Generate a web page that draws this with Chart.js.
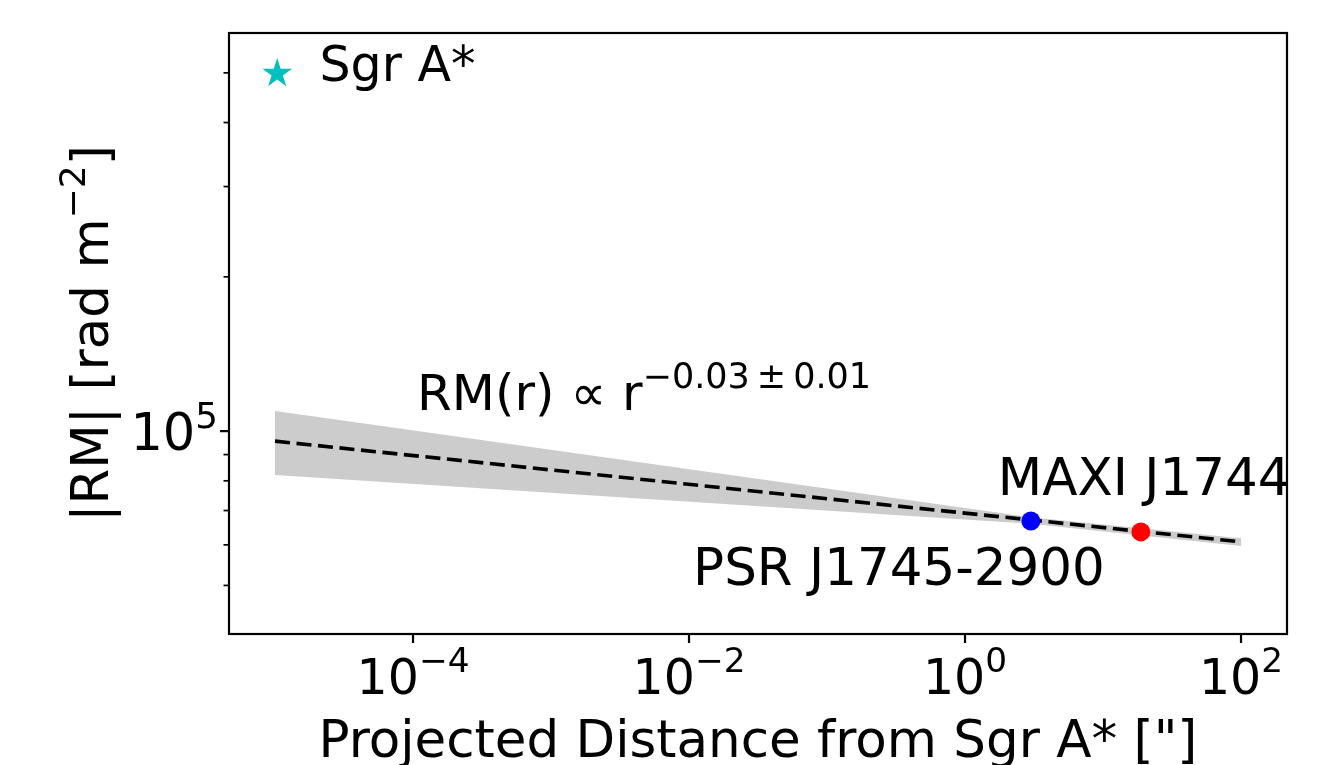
<!DOCTYPE html>
<html>
<head>
<meta charset="utf-8">
<script src="https://cdn.jsdelivr.net/npm/chart.js@4.4.0/dist/chart.umd.min.js"></script>
<style>
html, body { margin: 0; padding: 0; background: #fff; }
canvas { display: block; }
</style>
</head>
<body>
<canvas id="rmChart" width="1336" height="765"></canvas>
<script>
// valores (|RM| em rad m^-2, distância em arcsec)
const fitX = [1e-5, 100];
const fitY = [9.56e4, 6.08e4];
const bandX = [1e-5, 3, 100];
const bandUpper = [1.095e5, 6.79e4, 6.18e4];
const bandLower = [8.21e4, 6.60e4, 5.97e4];
const psrX = [3.0];
const psrY = [6.68e4];
const maxiX = [18.8];
const maxiY = [6.36e4];

// eixos
const xRange = [4.64e-6, 215.4];
const yRange = [4.02e4, 5.98e5];
const xMajorTicks = [1e-4, 1e-2, 1, 100];
const xTickExps = ['\u22124', '\u22122', '0', '2'];
const yMajorTicks = [1e5];
const yTickExps = ['5'];
const yMinorTicks = [5e4, 6e4, 7e4, 8e4, 9e4, 2e5, 3e5, 4e5, 5e5];

const FAMILY = '"DejaVu Sans", sans-serif';
const font = px => px + 'px ' + FAMILY;

const toPoints = (xs, ys) => xs.map((v, i) => ({ x: v, y: ys[i] }));

// estrela preenchida tipo marcador '*' do matplotlib (usada na legenda)
const starImg = document.createElement('canvas');
starImg.width = 64;
starImg.height = 54;
(function () {
    const c = starImg.getContext('2d');
    const cx = 42.2, cy = 32.6, R = 15.5, r = R * 0.382;
    c.beginPath();
    for (let i = 0; i < 10; i++) {
        const rad = i % 2 ? r : R;
        const ang = -Math.PI / 2 + i * Math.PI / 5;
        c.lineTo(cx + rad * Math.cos(ang), cy + rad * Math.sin(ang));
    }
    c.closePath();
    c.fillStyle = '#00bfbf';
    c.fill();
})();

// escreve "base" com expoente elevado
function drawPow(ctx, base, exp, x, y, size, align) {
    ctx.font = font(size);
    const wb = ctx.measureText(base).width;
    ctx.font = font(size * 0.7);
    const we = ctx.measureText(exp).width;
    let x0 = x;
    if (align === 'center') x0 = x - (wb + we) / 2;
    else if (align === 'right') x0 = x - (wb + we);
    ctx.textAlign = 'left';
    ctx.textBaseline = 'alphabetic';
    ctx.font = font(size);
    ctx.fillText(base, x0, y);
    ctx.font = font(size * 0.7);
    ctx.fillText(exp, x0 + wb, y - size * 0.44);
    return wb + we;
}

// moldura, ticks, rótulos e anotações no estilo matplotlib
const mplAxes = {
    id: 'mplAxes',
    afterDraw(chart) {
        const { ctx, chartArea: a, scales: { x, y } } = chart;
        ctx.save();
        ctx.strokeStyle = '#000';
        ctx.fillStyle = '#000';

        // ticks do eixo x (só maiores)
        ctx.lineWidth = 2.2;
        xMajorTicks.forEach((v, i) => {
            const px = x.getPixelForValue(v);
            ctx.beginPath();
            ctx.moveTo(px, a.bottom);
            ctx.lineTo(px, a.bottom + 9);
            ctx.stroke();
            drawPow(ctx, '10', xTickExps[i], px, a.bottom + 60, 49, 'center');
        });

        // ticks do eixo y
        yMajorTicks.forEach((v, i) => {
            const py = y.getPixelForValue(v);
            ctx.lineWidth = 2.2;
            ctx.beginPath();
            ctx.moveTo(a.left, py);
            ctx.lineTo(a.left - 9, py);
            ctx.stroke();
            drawPow(ctx, '10', yTickExps[i], a.left - 11, py + 19, 51, 'right');
        });
        ctx.lineWidth = 1.7;
        yMinorTicks.forEach(v => {
            const py = y.getPixelForValue(v);
            ctx.beginPath();
            ctx.moveTo(a.left, py);
            ctx.lineTo(a.left - 5.5, py);
            ctx.stroke();
        });

        // moldura
        ctx.lineWidth = 2.2;
        ctx.strokeRect(a.left, a.top, a.right - a.left, a.bottom - a.top);

        // título do eixo x
        ctx.font = font(51.5);
        ctx.textAlign = 'center';
        ctx.textBaseline = 'alphabetic';
        ctx.fillText('Projected Distance from Sgr A* ["]', (a.left + a.right) / 2, 757);

        // título do eixo y (rotacionado)
        ctx.save();
        ctx.translate(108, (a.top + a.bottom) / 2);
        ctx.rotate(-Math.PI / 2);
        ctx.font = font(51.5);
        const w1 = ctx.measureText('|RM| [rad m').width;
        const w3 = ctx.measureText(']').width;
        ctx.font = font(51.5 * 0.7);
        const w2 = ctx.measureText('\u22122').width;
        const tx = -(w1 + w2 + w3) / 2;
        const w12 = drawPow(ctx, '|RM| [rad m', '\u22122', tx, 0, 51.5, 'left');
        ctx.font = font(51.5);
        ctx.fillText(']', tx + w12, 0);
        ctx.restore();

        // anotações
        ctx.font = font(51.5);
        ctx.textAlign = 'left';
        ctx.fillText('MAXI J1744', x.getPixelForValue(1.73), y.getPixelForValue(7.51e4));
        ctx.fillText('PSR J1745-2900', x.getPixelForValue(0.0107), y.getPixelForValue(5.01e4));
        drawPow(ctx, 'RM(r) \u221D r', '\u22120.03\u2009\u00B1\u20090.01',
            x.getPixelForValue(1.07e-4), y.getPixelForValue(1.10e5), 50, 'left');

        ctx.restore();
    }
};

const ctx = document.getElementById('rmChart').getContext('2d');

const rmChart = new Chart(ctx, {
    type: 'line',
    data: {
        datasets: [
            {
                label: 'Sgr A*',
                data: [],
                showLine: false,
                pointStyle: starImg,
                backgroundColor: '#00bfbf',
                order: 0
            },
            {
                label: 'PSR J1745-2900',
                data: toPoints(psrX, psrY),
                showLine: false,
                pointRadius: 9.5,
                pointBorderWidth: 0,
                pointBackgroundColor: '#0000ff',
                order: 1
            },
            {
                label: 'MAXI J1744',
                data: toPoints(maxiX, maxiY),
                showLine: false,
                pointRadius: 9.5,
                pointBorderWidth: 0,
                pointBackgroundColor: '#ff0000',
                order: 2
            },
            {
                label: 'fit',
                data: toPoints(fitX, fitY),
                borderColor: '#000',
                borderWidth: 3.6,
                borderDash: [15, 6.6],
                pointRadius: 0,
                tension: 0,
                order: 3
            },
            {
                label: 'upper',
                data: toPoints(bandX, bandUpper),
                borderWidth: 0,
                borderColor: 'rgba(0,0,0,0)',
                backgroundColor: 'rgb(204,204,204)',
                pointRadius: 0,
                tension: 0,
                fill: '+1',
                order: 4
            },
            {
                label: 'lower',
                data: toPoints(bandX, bandLower),
                borderWidth: 0,
                borderColor: 'rgba(0,0,0,0)',
                pointRadius: 0,
                tension: 0,
                fill: false,
                order: 5
            }
        ]
    },
    options: {
        responsive: false,
        animation: false,
        layout: { padding: { top: 33, right: 49, left: 0, bottom: 0 } },
        scales: {
            x: {
                type: 'logarithmic',
                bounds: 'data',
                min: xRange[0],
                max: xRange[1],
                grid: { display: false },
                border: { display: false },
                ticks: { display: false },
                afterBuildTicks: s => { s.ticks = xMajorTicks.map(v => ({ value: v, major: true })); },
                afterFit: s => { s.height = 131; }
            },
            y: {
                type: 'logarithmic',
                bounds: 'data',
                min: yRange[0],
                max: yRange[1],
                grid: { display: false },
                border: { display: false },
                ticks: { display: false },
                afterBuildTicks: s => { s.ticks = yMajorTicks.map(v => ({ value: v, major: true })); },
                afterFit: s => { s.width = 229; }
            }
        },
        plugins: {
            legend: {
                position: 'chartArea',
                align: 'start',
                // título vazio só para descer a entrada da legenda
                title: { display: true, text: '', font: { size: 10 }, padding: { top: 21.5, bottom: 0 } },
                labels: {
                    usePointStyle: true,
                    pointStyleWidth: 56,
                    padding: 10,
                    color: '#000',
                    font: { family: 'DejaVu Sans', size: 49 },
                    filter: item => item.text === 'Sgr A*'
                }
            },
            tooltip: { enabled: false }
        }
    },
    plugins: [mplAxes]
});
</script>
</body>
</html>
